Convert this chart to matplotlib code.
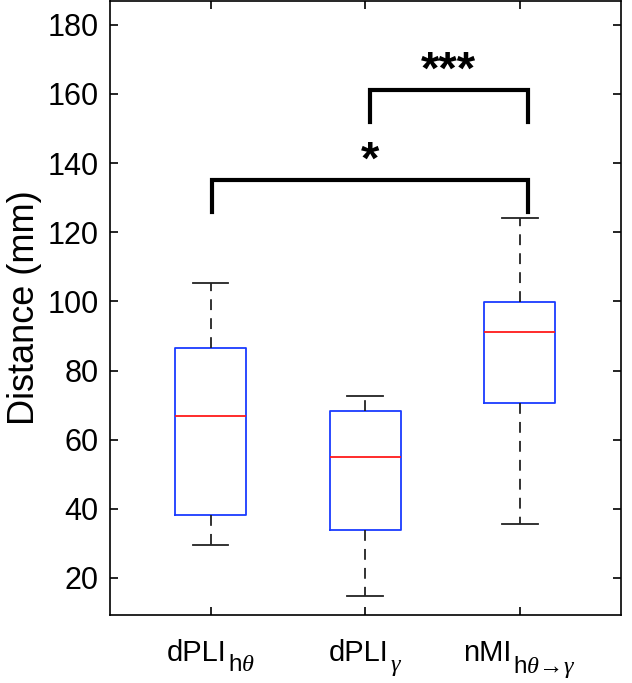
import matplotlib
matplotlib.use('Agg')
import matplotlib.pyplot as plt
from matplotlib.offsetbox import (TextArea, HPacker, VPacker, DrawingArea,
                                  AnnotationBbox)

plt.rcParams['font.family'] = ['Liberation Sans', 'DejaVu Sans']
plt.rcParams['mathtext.fontset'] = 'custom'
plt.rcParams['mathtext.rm'] = 'Liberation Sans'
plt.rcParams['mathtext.it'] = 'Liberation Serif:italic'

names = ['dPLI', 'dPLI', 'nMI']
subs = [r'h$\theta$', r'$\gamma$', r'h$\theta\!\rightarrow\!\gamma$']
medians = [66.8, 55.0, 91.2]
q1 = [38.2, 34.0, 70.7]
q3 = [86.4, 68.4, 99.8]
wlo = [29.5, 14.7, 35.6]
whi = [105.2, 72.6, 124.1]

# significance brackets: (x_left, x_right, bar height, leg bottom, stars, star y)
brackets = [(1.01, 3.05, 135.2, 125.8, '*', 137.0),
            (2.03, 3.05, 161.2, 151.8, '***', 163.0)]


def make_stats():
    stats = []
    for i in range(len(names)):
        stats.append({'med': medians[i], 'q1': q1[i], 'q3': q3[i],
                      'whislo': wlo[i], 'whishi': whi[i], 'fliers': []})
    return stats


def sub_label(ax, x, name, sub):
    main = TextArea(name, textprops=dict(fontsize=21))
    # lift the subscript a little so it drops less than its own height
    spacer = DrawingArea(1, 0, 0, -5)
    low = VPacker(children=[spacer, TextArea(sub, textprops=dict(fontsize=17.5))],
                  pad=0, sep=0)
    box = HPacker(children=[main, low], align='baseline', pad=0, sep=1)
    ab = AnnotationBbox(box, (x, 0), xycoords=ax.get_xaxis_transform(),
                        xybox=(0, -17.5), boxcoords='offset points',
                        box_alignment=(0.5, 1), frameon=False, pad=0,
                        annotation_clip=False)
    ax.add_artist(ab)


def main():
    fig = plt.figure(figsize=(6.32, 6.83), dpi=100)
    ax = fig.add_axes([0.174, 0.0996, 0.8086, 0.899])

    ax.bxp(make_stats(), positions=[1, 2, 3], widths=0.46, capwidths=0.23,
           showfliers=False,
           boxprops=dict(color='#1a3cff', linewidth=1.3),
           medianprops=dict(color='#ff1a1a', linewidth=1.3),
           whiskerprops=dict(color='#222222', linewidth=1.3,
                             linestyle=(0, (6, 4.5))),
           capprops=dict(color='#222222', linewidth=1.3))

    for xl, xr, yb, yl, txt, ty in brackets:
        ax.plot([xl, xl, xr, xr], [yl, yb, yb, yl], color='black',
                linewidth=3, solid_joinstyle='miter', clip_on=False)
        ax.text((xl + xr) / 2, ty, txt, ha='center', va='baseline',
                fontsize=34, fontweight='bold')

    ax.set_xlim(0.35, 3.654)
    ax.set_ylim(9.3, 186.9)
    ax.set_yticks(range(20, 181, 20))
    ax.set_xticks([1, 2, 3])
    ax.set_xticklabels([])
    for i in range(len(names)):
        sub_label(ax, i + 1, names[i], subs[i])
    ax.tick_params(axis='y', labelsize=22)
    ax.tick_params(direction='in', length=6, width=1.2, top=True, right=True,
                   pad=8)
    for s in ax.spines.values():
        s.set_linewidth(1.2)
    ax.set_ylabel('Distance (mm)', fontsize=26, labelpad=4)

    fig.savefig('out.png', dpi=100)


if __name__ == "__main__":
    main()
